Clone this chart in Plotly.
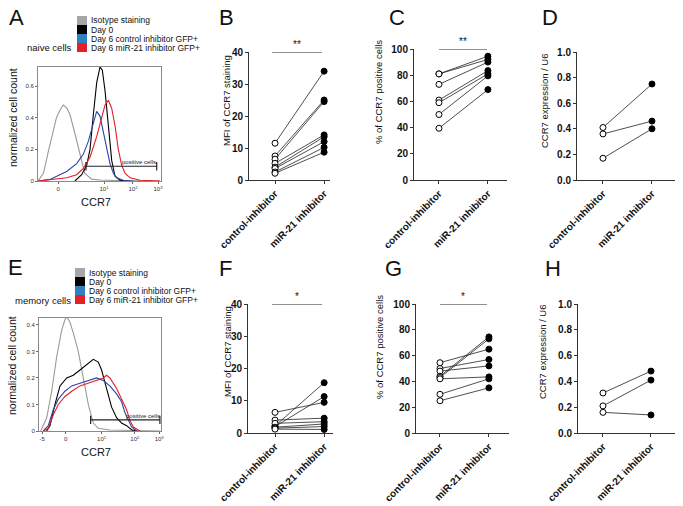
import plotly.graph_objects as go

W, H = 683, 506
FONT = "Liberation Sans, Arial, sans-serif"

cats = ["control-inhibitor", "miR-21 inhibitor"]

# ---------- paired data (control -> miR-21 inhibitor) ----------
B_ctrl = [11.5, 7.5, 6.5, 5.2, 4.0, 3.6, 2.5, 2.1]
B_mir = [34.0, 25.0, 24.5, 14.1, 13.5, 12.0, 10.2, 8.7]
C_ctrl = [81, 81, 73, 61, 59, 50, 39.5]
C_mir = [94.5, 92, 90, 83.5, 81, 79.5, 69]
D_ctrl = [0.41, 0.36, 0.17]
D_mir = [0.75, 0.46, 0.40]
F_ctrl = [6.4, 2.2, 2.0, 4.0, 3.0, 1.8, 1.5, 1.2]
F_mir = [9.5, 15.6, 11.3, 4.6, 3.5, 2.8, 2.0, 1.1]
G_ctrl = [54.5, 50, 48, 44, 43, 42, 30, 25]
G_mir = [65, 57, 52, 74.5, 73, 43.5, 42, 35]
H_ctrl = [0.31, 0.21, 0.16]
H_mir = [0.48, 0.41, 0.14]

# ---------- histogram data (CCR7 channel, normalized count) ----------
A_iso_x = [0, 45, 85, 125, 150, 180, 205, 235, 260, 300, 340, 380, 435, 505, 640, 775, 990]
A_iso_y = [0, 0.05, 0.19, 0.33, 0.40, 0.45, 0.48, 0.46, 0.42, 0.30, 0.17, 0.05, 0.012, 0.006, 0.003, 0.001, 0]
A_d0_x = [300, 355, 396, 423, 450, 477, 504, 523, 545, 572, 599, 626, 667, 721]
A_d0_y = [0, 0.04, 0.10, 0.20, 0.42, 0.62, 0.72, 0.70, 0.57, 0.35, 0.13, 0.03, 0.005, 0]
A_ctl_x = [3, 98, 152, 233, 314, 369, 409, 450, 477, 504, 531, 558, 585, 612, 640, 694, 775]
A_ctl_y = [0, 0.01, 0.03, 0.06, 0.11, 0.17, 0.25, 0.37, 0.44, 0.41, 0.31, 0.19, 0.11, 0.05, 0.02, 0.005, 0]
A_mir_x = [3, 152, 233, 314, 369, 423, 477, 518, 545, 572, 599, 626, 653, 680, 707, 748, 829, 992]
A_mir_y = [0, 0.01, 0.02, 0.04, 0.08, 0.15, 0.28, 0.40, 0.48, 0.51, 0.46, 0.35, 0.20, 0.10, 0.05, 0.02, 0.005, 0]

E_iso_x = [14, 63, 104, 145, 186, 213, 227, 254, 281, 322, 363, 404, 445, 486, 581, 773, 991]
E_iso_y = [0, 0.05, 0.15, 0.28, 0.38, 0.42, 0.43, 0.41, 0.37, 0.30, 0.20, 0.10, 0.03, 0.01, 0.004, 0.001, 0]
E_d0_x = [63, 90, 131, 172, 227, 281, 336, 390, 445, 486, 513, 554, 595, 636, 677, 718, 759, 800]
E_d0_y = [0, 0.02, 0.10, 0.17, 0.20, 0.21, 0.23, 0.25, 0.27, 0.26, 0.23, 0.16, 0.09, 0.05, 0.03, 0.02, 0.005, 0]
E_ctl_x = [35, 76, 117, 158, 213, 268, 336, 404, 472, 527, 581, 636, 677, 704, 732, 759, 800]
E_ctl_y = [0, 0.02, 0.08, 0.12, 0.15, 0.17, 0.18, 0.19, 0.20, 0.19, 0.17, 0.14, 0.11, 0.07, 0.04, 0.015, 0]
E_mir_x = [35, 76, 117, 158, 213, 268, 336, 404, 472, 527, 554, 581, 636, 677, 718, 745, 773, 827]
E_mir_y = [0, 0.01, 0.06, 0.10, 0.13, 0.15, 0.17, 0.18, 0.19, 0.20, 0.21, 0.20, 0.16, 0.12, 0.08, 0.04, 0.015, 0]

A_gate = [390, 965, 0.093]
E_gate = [423, 991, 0.042]

A_tickvals = [163, 537, 772, 976]
A_ticktext = ["0", "10<sup>1</sup>", "10<sup>2</sup>", "10<sup>3</sup>"]
E_tickvals = [27, 218, 513, 786, 985]
E_ticktext = ["-5", "0", "10<sup>1</sup>", "10<sup>2</sup>", "10<sup>3</sup>"]

legend_labels = ["Isotype staining", "Day 0", "Day 6 control inhibitor GFP+", "Day 6 miR-21 inhibitor GFP+"]
legend_colors = ["#a6a6a6", "#000000", "#2f7fc1", "#e41f26"]
curve_colors = ["#9a9a9a", "#000000", "#2c46a8", "#e41f26"]


def xd(a, b):
    return [a / W, b / W]


def yd(top, bot):
    return [1 - bot / H, 1 - top / H]


def px(x):
    return x / W


def py(y):
    return 1 - y / H


fig = go.Figure()
layout = {}
annotations = []
shapes = []


def hist_panel(n, curves, xdom, ydom, yr, ytv, ytt, xtv, xtt, gate):
    xa = "x" if n == 1 else f"x{n}"
    ya = "y" if n == 1 else f"y{n}"
    for (cx, cy), col in zip(curves, curve_colors):
        fig.add_trace(go.Scatter(x=cx, y=cy, mode="lines", line=dict(color=col, width=1.1),
                                 xaxis=xa, yaxis=ya, showlegend=False, hoverinfo="skip"))
    g0, g1, gy = gate
    fig.add_trace(go.Scatter(x=[g0, g1], y=[gy, gy], mode="lines+markers",
                             line=dict(color="#222", width=1.2),
                             marker=dict(symbol="line-ns", size=6, line=dict(color="#222", width=1.2)),
                             xaxis=xa, yaxis=ya, showlegend=False, hoverinfo="skip", cliponaxis=False))
    annotations.append(dict(x=g1 - 140, y=gy, xref=xa, yref=ya, text="positive cells",
                            showarrow=False, yanchor="bottom", yshift=-1,
                            font=dict(family=FONT, size=6, color="#222")))
    kx = "xaxis" if n == 1 else f"xaxis{n}"
    ky = "yaxis" if n == 1 else f"yaxis{n}"
    layout[kx] = dict(domain=xd(*xdom), range=[0, 1000], anchor=ya, showline=True, mirror=True,
                      linecolor="#8a8a8a", linewidth=1, ticks="outside", ticklen=2, tickcolor="#666",
                      tickvals=xtv, ticktext=xtt, tickfont=dict(family=FONT, size=6, color="#333"),
                      showgrid=False, zeroline=False, fixedrange=True, automargin=False)
    layout[ky] = dict(domain=yd(*ydom), range=yr, anchor=xa, showline=True, mirror=True,
                      linecolor="#8a8a8a", linewidth=1, ticks="outside", ticklen=2, tickcolor="#666",
                      tickvals=ytv, ticktext=ytt, tickfont=dict(family=FONT, size=6, color="#333"),
                      showgrid=False, zeroline=False, fixedrange=True, automargin=False)


def scatter_panel(n, ctrl, mir, xdom, ydom, xr, yr, ytv, ytt):
    xa, ya = f"x{n}", f"y{n}"
    lx, ly = [], []
    for c, m in zip(ctrl, mir):
        lx += [0, 1, None]
        ly += [c, m, None]
    fig.add_trace(go.Scatter(x=lx, y=ly, mode="lines", line=dict(color="#222", width=0.8),
                             xaxis=xa, yaxis=ya, showlegend=False, hoverinfo="skip", cliponaxis=False))
    fig.add_trace(go.Scatter(x=[0] * len(ctrl), y=ctrl, mode="markers",
                             marker=dict(symbol="circle", size=6, color="white", line=dict(color="black", width=1)),
                             xaxis=xa, yaxis=ya, showlegend=False, cliponaxis=False))
    fig.add_trace(go.Scatter(x=[1] * len(mir), y=mir, mode="markers",
                             marker=dict(symbol="circle", size=6, color="black", line=dict(color="black", width=1)),
                             xaxis=xa, yaxis=ya, showlegend=False, cliponaxis=False))
    common = dict(showline=True, linecolor="#333", linewidth=1, ticks="outside", ticklen=3,
                  tickcolor="#333", showgrid=False, zeroline=False, fixedrange=True, automargin=False)
    layout[f"xaxis{n}"] = dict(domain=xd(*xdom), range=xr, anchor=ya, tickvals=[0, 1], ticktext=cats,
                               tickangle=-45,
                               tickfont=dict(family=FONT, size=10, color="#111", weight="bold"), **common)
    layout[f"yaxis{n}"] = dict(domain=yd(*ydom), range=yr, anchor=xa, tickvals=ytv, ticktext=ytt,
                               tickfont=dict(family=FONT, size=10, color="#111", weight="bold"), **common)


def sig(n, x0, x1, yv, text):
    shapes.append(dict(type="line", xref=f"x{n}", yref=f"y{n}", x0=x0, x1=x1, y0=yv, y1=yv,
                       line=dict(color="#222", width=1)))
    annotations.append(dict(x=(x0 + x1) / 2, y=yv, xref=f"x{n}", yref=f"y{n}", text=text,
                            showarrow=False, yanchor="bottom", yshift=0,
                            font=dict(family=FONT, size=10, color="#111")))


def label(text, x, y, size, angle=0, **kw):
    annotations.append(dict(x=px(x), y=py(y), xref="paper", yref="paper", text=text, showarrow=False,
                            xanchor=kw.get("xanchor", "center"), yanchor="middle", textangle=angle,
                            font=dict(family=FONT, size=size, color="#111")))


# Histograms
hist_panel(1, [(A_iso_x, A_iso_y), (A_d0_x, A_d0_y), (A_ctl_x, A_ctl_y), (A_mir_x, A_mir_y)],
           (38, 161), (67, 181), [0, 0.72], [0, 0.2, 0.4, 0.6], ["0", "0.2", "0.4", "0.6"],
           A_tickvals, A_ticktext, A_gate)
hist_panel(5, [(E_iso_x, E_iso_y), (E_d0_x, E_d0_y), (E_ctl_x, E_ctl_y), (E_mir_x, E_mir_y)],
           (39, 161), (318, 431), [0, 0.426], [0, 0.1, 0.2, 0.3, 0.4], ["0", "0.1", "0.2", "0.3", "0.4"],
           E_tickvals, E_ticktext, E_gate)

# Paired scatter panels
t40 = [0, 10, 20, 30, 40]
t100 = [0, 20, 40, 60, 80, 100]
t1 = [0, 0.2, 0.4, 0.6, 0.8, 1.0]
t1t = ["0.0", "0.2", "0.4", "0.6", "0.8", "1.0"]
scatter_panel(2, B_ctrl, B_mir, (249, 330), (52, 180), [-0.53, 1.12], [0, 40], t40, [str(v) for v in t40])
scatter_panel(3, C_ctrl, C_mir, (414, 507), (49, 180), [-0.51, 1.39], [0, 100], t100, [str(v) for v in t100])
scatter_panel(4, D_ctrl, D_mir, (577, 675), (52, 180), [-0.53, 1.47], [0, 1], t1, t1t)
scatter_panel(6, F_ctrl, F_mir, (248, 333), (304, 433), [-0.55, 1.18], [0, 40], t40, [str(v) for v in t40])
scatter_panel(7, G_ctrl, G_mir, (416, 509), (304, 433), [-0.49, 1.41], [0, 100], t100, [str(v) for v in t100])
scatter_panel(8, H_ctrl, H_mir, (578, 675), (304, 433), [-0.52, 1.5], [0, 1], t1, t1t)

sig(2, -0.06, 0.96, 40, "**")
sig(3, 0.0, 0.98, 100, "**")
sig(6, -0.06, 0.96, 40, "*")
sig(7, 0.0, 0.96, 100, "*")

# Panel letters
for t, x, y in [("A", 16, 17), ("B", 226, 17), ("C", 397, 17), ("D", 550, 17),
                ("E", 15, 267), ("F", 225, 268), ("G", 393, 268), ("H", 553, 268)]:
    label(t, x, y, 22)

# Axis titles
label("normalized cell count", 13, 118, 10.5, -90)
label("normalized cell count", 12, 366, 10.5, -90)
label("CCR7", 96, 202, 11)
label("CCR7", 96, 452, 11)
label("MFI of CCR7 staining", 227, 101, 9.5, -90)
label("% of CCR7 positive cells", 378, 92, 9.5, -90)
label("CCR7 expression / U6", 545, 101, 9.5, -90)
label("MFI of CCR7 staining", 227, 352, 9.5, -90)
label("% of CCR7 positive cells", 379, 347, 9.5, -90)
label("CCR7 expression / U6", 542, 352, 9.5, -90)

# Population labels
label("naive cells", 25, 47, 9.5, xanchor="left")
label("memory cells", 13, 300, 9.5, xanchor="left")

# Custom legends
for top, sx, tx in [(16, 77, 89), (268, 75, 87)]:
    for i, (lab, col) in enumerate(zip(legend_labels, legend_colors)):
        y0 = top + i * 9
        shapes.append(dict(type="rect", xref="paper", yref="paper", x0=px(sx), x1=px(sx + 10),
                           y0=py(y0 + 9), y1=py(y0), fillcolor=col, line=dict(width=0)))
        label(lab, tx, y0 + 4.5, 8.5, xanchor="left")

fig.update_layout(**layout)
fig.update_layout(template="none", width=W, height=H, margin=dict(l=0, r=0, t=0, b=0),
                  paper_bgcolor="white", plot_bgcolor="white", showlegend=False,
                  annotations=annotations, shapes=shapes, font=dict(family=FONT))
fig.write_html("out.html", config={"displayModeBar": False},
               post_script="document.body.style.margin='0';document.body.style.overflow='hidden';")
